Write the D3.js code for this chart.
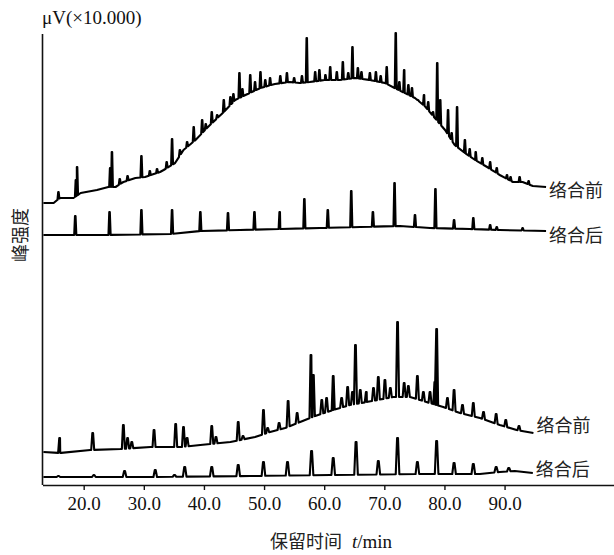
<!DOCTYPE html>
<html>
<head>
<meta charset="utf-8">
<script src="https://cdn.jsdelivr.net/npm/d3@7/dist/d3.min.js"></script>
<style>
  body { margin: 0; background: #fff; }
  svg { display: block; }
  .num { font-family: "Liberation Serif", "Times New Roman", serif; font-size: 19px; fill: #111; }
  .cjk { font-family: "Noto Sans CJK SC", sans-serif; font-size: 18px; fill: #222; }
</style>
</head>
<body>
<svg id="chart" width="614" height="555"></svg>
<script>
// 保留时间 (min) 轴刻度
const xTicks = [20, 30, 40, 50, 60, 70, 80, 90]

// 每条谱线：基线 [t, 强度] + 峰 [t, 峰顶强度]
// 上图 络合前
const aBase = [[13.3,28.5],[15.0,28.5],[15.6,28.8],[16.1,29.0],[18.3,29.0],[19.5,29.5],[22.2,29.8],[24.1,30.1],[25.3,30.1],[26.6,30.6],[28.6,31.0],[30.2,31.1],[32.7,31.6],[33.3,31.8],[35.2,32.5],[36.6,33.8],[38.6,34.8],[41.0,36.3],[43.3,37.6],[45.2,38.8],[46.9,39.3],[49.4,40.0],[51.8,40.4],[54.3,40.6],[55.9,40.5],[57.6,40.6],[60.1,40.8],[62.6,40.8],[65.1,41.0],[67.6,40.8],[70.1,40.5],[71.7,40.0],[73.4,39.5],[75.1,39.0],[76.7,38.2],[78.4,37.0],[80.1,35.8],[81.7,34.3],[83.4,33.5],[85.1,32.8],[87.1,32.1],[89.2,31.3],[91.4,30.6],[93.0,30.6],[94.7,30.2],[96.9,30.1]]
const aPeaks = [[15.8,29.6],[18.7,30.8],[18.9,32.1],[24.4,32.0],[24.7,33.6],[26.0,30.9],[27.3,31.2],[29.6,33.2],[31.0,31.7],[32.2,31.9],[33.8,32.6],[34.7,34.9],[36.0,33.8],[37.2,34.6],[38.3,36.1],[39.7,36.8],[40.3,36.4],[41.3,37.6],[42.2,37.3],[43.3,38.8],[44.4,39.1],[44.9,39.4],[45.9,41.5],[46.4,39.9],[47.7,41.3],[48.5,40.6],[49.4,41.6],[50.2,40.8],[51.0,41.0],[52.7,41.2],[53.8,41.5],[55.0,41.0],[56.3,41.2],[57.1,45.0],[58.5,41.6],[59.2,41.8],[60.2,41.3],[61.0,42.1],[62.1,41.6],[63.1,42.6],[64.0,41.5],[64.7,44.1],[65.6,42.0],[66.2,41.6],[67.6,41.5],[68.6,41.6],[69.4,41.2],[70.4,42.1],[71.9,45.5],[72.5,40.6],[73.3,41.8],[74.0,40.3],[74.6,40.0],[75.6,38.8],[76.6,39.3],[77.3,38.6],[78.1,37.6],[78.8,42.5],[79.3,38.8],[80.6,37.8],[81.2,35.5],[82.1,38.1],[83.4,34.8],[84.2,33.9],[85.2,33.6],[86.3,33.0],[87.6,32.6],[88.7,32.0],[90.4,31.3],[91.0,31.1],[92.5,31.1],[94.0,30.7]]
// 上图 络合后
const bBase = [[13.3,25.3],[22.8,25.3],[34.4,25.4],[39.4,25.7],[46.0,25.8],[52.7,25.9],[59.3,26.0],[66.0,26.1],[72.6,26.2],[77.6,26.0],[84.2,25.9],[89.2,25.8],[96.9,25.7]]
const bPeaks = [[18.6,27.2],[24.3,27.6],[29.6,27.8],[34.7,27.8],[39.4,27.6],[44.0,27.5],[48.4,27.6],[52.6,27.6],[56.7,28.9],[60.6,27.8],[64.5,29.7],[68.1,27.6],[71.7,30.5],[75.1,27.3],[78.5,29.9],[81.6,26.8],[84.8,27.0],[87.6,26.3],[88.7,26.1],[93.0,26.0]]
// 下图 络合前
const cBase = [[13.3,3.6],[16.1,3.5],[21.1,3.8],[26.1,3.9],[31.1,4.1],[36.1,4.1],[39.4,4.3],[44.4,4.6],[48.5,5.1],[51.0,5.6],[53.5,6.0],[56.0,6.6],[58.5,7.2],[61.5,7.8],[64.3,8.3],[67.1,8.6],[71.5,9.1],[74.3,9.1],[77.0,8.6],[79.8,8.1],[82.6,7.5],[85.9,7.0],[89.2,6.3],[92.0,5.8],[94.8,5.5]]
const cPeaks = [[16.0,5.0],[21.5,5.5],[26.6,6.3],[27.3,5.0],[28.0,4.6],[31.7,5.8],[35.3,6.4],[36.6,6.1],[37.2,5.0],[41.3,6.2],[42.0,5.1],[45.7,6.6],[46.5,5.2],[49.9,7.8],[50.6,6.0],[52.5,6.5],[54.0,8.7],[55.5,7.5],[57.8,13.3],[58.2,11.3],[59.6,8.8],[60.4,9.0],[61.5,11.2],[62.9,9.0],[63.9,10.1],[64.7,9.6],[65.2,14.3],[66.0,9.8],[67.0,9.6],[68.2,10.0],[69.0,11.1],[70.1,10.8],[71.0,10.0],[72.2,16.6],[73.3,10.5],[74.0,10.2],[75.5,11.2],[76.5,9.6],[77.6,9.6],[78.4,10.6],[78.7,15.9],[80.5,9.0],[81.6,9.8],[83.0,8.3],[84.8,8.5],[86.5,7.6],[88.6,7.4],[90.2,6.8],[92.4,6.2]]
// 下图 络合后
const dBase = [[13.3,1.1],[31.1,1.1],[47.7,1.2],[61.0,1.3],[75.9,1.4],[85.9,1.4],[89.2,1.6],[91.7,1.7],[94.7,1.5]]
const dPeaks = [[15.8,1.2],[21.7,1.3],[26.8,1.7],[31.9,1.8],[35.1,1.3],[36.8,2.1],[41.3,2.1],[45.7,2.3],[49.9,2.6],[53.9,2.6],[57.9,3.7],[61.5,3.0],[65.3,4.6],[69.0,2.7],[72.2,5.0],[75.5,2.6],[78.7,4.7],[81.6,2.5],[84.8,2.4],[88.6,2.1],[90.7,2.0]]

const traces = [
  { base: aBase, peaks: aPeaks, label: '络合前', w: 0.16, dy: 2 },
  { base: bBase, peaks: bPeaks, label: '络合后', w: 0.18, dy: 3 },
  { base: cBase, peaks: cPeaks, label: '络合前', w: 0.25, dy: -9 },
  { base: dBase, peaks: dPeaks, label: '络合后', w: 0.3, dy: -5 }
]

const svg = d3.select('#chart')
const x = d3.scaleLinear().domain([13.15, 108.2]).range([42.5, 614])
const y = d3.scaleLinear().domain([0.3, 45.3]).range([485, 35])

// 坐标轴
svg.append('line')
  .attr('x1', x.range()[0]).attr('x2', x.range()[0])
  .attr('y1', 34).attr('y2', y.range()[0])
  .attr('stroke', '#111').attr('stroke-width', 1.6)

const xAxis = svg.append('g')
  .attr('transform', `translate(0,${y.range()[0]})`)
  .call(d3.axisBottom(x).tickValues(xTicks).tickFormat(d3.format('.1f')).tickSize(5).tickSizeOuter(0))
xAxis.select('.domain').attr('stroke', '#111').attr('stroke-width', 1.6)
xAxis.selectAll('.tick line').attr('stroke', '#111').attr('stroke-width', 1.4)
xAxis.selectAll('.tick text').attr('class', 'num').attr('y', 12).attr('dy', '0.71em')

// 谱线
const line = d3.line().x(d => x(d[0])).y(d => y(d[1]))
traces.forEach(tr => {
  const baseAt = d3.scaleLinear().domain(tr.base.map(d => d[0])).range(tr.base.map(d => d[1])).clamp(true)
  let pts = tr.base.slice()
  tr.peaks.forEach(p => {
    const t = p[0]
    pts.push([t - tr.w, baseAt(t - tr.w)])
    pts.push([t - tr.w * 0.25, p[1]])
    pts.push([t + tr.w * 0.25, p[1]])
    pts.push([t + tr.w, baseAt(t + tr.w)])
  })
  pts.sort((a, b) => a[0] - b[0])
  svg.append('path')
    .attr('d', line(pts))
    .attr('fill', 'none')
    .attr('stroke', '#000')
    .attr('stroke-width', 2.1)
    .attr('stroke-linejoin', 'round')
  const last = tr.base[tr.base.length - 1]
  svg.append('text')
    .attr('class', 'cjk')
    .attr('x', x(last[0]) + 3)
    .attr('y', y(last[1]) + tr.dy)
    .attr('dominant-baseline', 'central')
    .text(tr.label)
})

// 文字
svg.append('text').attr('class', 'num')
  .attr('x', 42).attr('y', 24)
  .text('μV(×10.000)')

svg.append('text').attr('class', 'cjk')
  .attr('transform', 'translate(19,235) rotate(-90)')
  .attr('text-anchor', 'middle')
  .attr('dominant-baseline', 'central')
  .text('峰强度')

const xl = svg.append('text').attr('x', 270).attr('y', 548)
xl.append('tspan').attr('class', 'cjk').text('保留时间')
xl.append('tspan').attr('class', 'num').attr('dx', 10).style('font-style', 'italic').text('t')
xl.append('tspan').attr('class', 'num').text('/min')
</script>
</body>
</html>
